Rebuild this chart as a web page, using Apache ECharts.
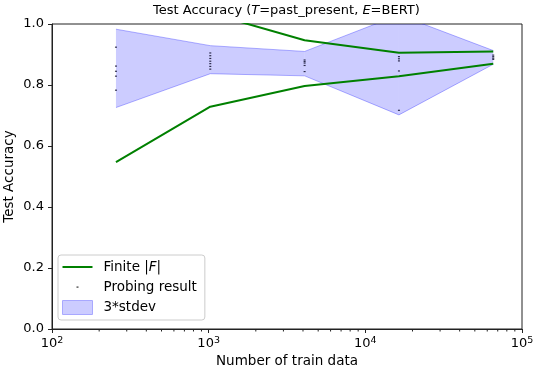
<!DOCTYPE html>
<html>
<head>
<meta charset="utf-8">
<script src="https://cdn.jsdelivr.net/npm/echarts@6/dist/echarts.min.js"></script>
<style>
html, body { margin: 0; padding: 0; background: #fff; }
#main { width: 534px; height: 368px; }
</style>
</head>
<body>
<div id="main"></div>
<script>
// train sizes (x positions of every mark)
var trainSizes = [256, 1024, 4096, 16384, 65536];

// "Finite |F|" lines (two curves, same style)
var finiteLow = [0.547, 0.729, 0.797, 0.829, 0.870];
var finiteHighSizes = [1024, 4096, 16384, 65536];
var finiteHigh = [1.035, 0.947, 0.906, 0.910];

// 3*stdev band
var bandLow = [0.726, 0.837, 0.830, 0.702, 0.868];
var bandHigh = [0.983, 0.929, 0.910, 1.030, 0.913];

// probing results, one list per train size
var probing = [
	[0.924, 0.862, 0.845, 0.829, 0.783],
	[0.905, 0.896, 0.887, 0.878, 0.870, 0.861, 0.852],
	[0.882, 0.877, 0.872, 0.864, 0.844],
	[0.893, 0.886, 0.879, 0.846, 0.717],
	[0.898, 0.893, 0.888, 0.884]
];

// axis ticks
var xMinorTicks = [];
[100, 1000, 10000].forEach(function(d){
	for (var k = 2; k <= 9; k++) xMinorTicks.push(d * k);
});

var FONT = 'DejaVu Sans';

var chart = {
	init: function(){
		var myChart = echarts.init(document.getElementById('main'), null, {renderer: 'canvas'});
		myChart.setOption(chart.getOption());
	},
	pairs: function(xs, ys){
		return xs.map(function(x, i){ return [x, ys[i]]; });
	},
	getOption: function(){
		var probingPts = [];
		probing.forEach(function(list, i){
			list.forEach(function(v){ probingPts.push([trainSizes[i], v]); });
		});
		// one quad per segment of the band: x0, low0, high0, x1, low1, high1
		var bandSegs = [];
		for (var i = 0; i < trainSizes.length - 1; i++) {
			bandSegs.push([trainSizes[i], bandLow[i], bandHigh[i], trainSizes[i + 1], bandLow[i + 1], bandHigh[i + 1]]);
		}
		var edge = 'rgba(0,0,255,0.3)';

		return {
			animation: false,
			textStyle: {fontFamily: FONT},
			title: {
				text: 'Test Accuracy ({i|T}=past_present, {i|E}=BERT)',
				left: 153,
				top: 4,
				padding: 0,
				textStyle: {
					fontFamily: FONT, fontSize: 13, fontWeight: 'normal', color: '#000',
					rich: {i: {fontFamily: FONT, fontSize: 13, fontStyle: 'italic', color: '#000'}}
				}
			},
			grid: {
				left: 52, right: 12, top: 24, bottom: 39,
				outerBoundsMode: 'none',
				containLabel: false,
				show: true, borderColor: '#222', borderWidth: 1, backgroundColor: 'transparent'
			},
			legend: {
				orient: 'vertical',
				left: 58, top: 255,
				padding: [5, 8, 5, 4],
				itemGap: 6,
				itemWidth: 30, itemHeight: 14,
				borderColor: '#cccccc', borderWidth: 1, borderRadius: 3,
				backgroundColor: 'rgba(255,255,255,0.85)',
				textStyle: {
					fontFamily: FONT, fontSize: 13.5, color: '#000', padding: [0, 0, 0, 6],
					rich: {i: {fontFamily: FONT, fontSize: 13.5, fontStyle: 'italic', color: '#000'}}
				},
				formatter: function(name){
					if (name === 'Finite |F|') return 'Finite |{i|F}|';
					return name;
				},
				data: [
					{name: 'Finite |F|', icon: 'path://M0,0M30,0M30,14M0,14M0,6h30v2h-30z', itemStyle: {color: '#008000'}},
					{name: 'Probing result', icon: 'path://M0,0M30,0M30,14M0,14M14,6.5h2v1.2h-2z', itemStyle: {color: '#000'}},
					{name: '3*stdev', icon: 'rect', itemStyle: {color: '#ccccff', borderColor: '#a8a8ff', borderWidth: 1}}
				]
			},
			xAxis: {
				type: 'log',
				logBase: 10,
				min: 100, max: 100000,
				name: 'Number of train data',
				nameLocation: 'middle',
				nameGap: 25,
				nameMoveOverlap: false,
				nameTextStyle: {fontFamily: FONT, fontSize: 13.5, color: '#000', verticalAlign: 'top'},
				axisLine: {show: true, lineStyle: {color: '#222', width: 1}},
				axisTick: {show: true, inside: false, length: 4, lineStyle: {color: '#222', width: 1}},
				splitLine: {show: false},
				axisLabel: {
					margin: 7,
					fontFamily: FONT, fontSize: 13, color: '#000',
					formatter: function(v){
						return '10{sup|' + Math.round(Math.log10(v)) + '}';
					},
					rich: {sup: {fontFamily: FONT, fontSize: 9.5, color: '#000', verticalAlign: 'top', padding: [0, 0, 6, 0]}}
				}
			},
			yAxis: {
				type: 'value',
				min: 0, max: 1, interval: 0.2,
				name: 'Test Accuracy',
				nameLocation: 'middle',
				nameGap: 36,
				nameMoveOverlap: false,
				nameTextStyle: {fontFamily: FONT, fontSize: 13.5, color: '#000'},
				axisLine: {show: true, lineStyle: {color: '#222', width: 1}},
				axisTick: {show: true, inside: false, length: 4, lineStyle: {color: '#222', width: 1}},
				splitLine: {show: false},
				axisLabel: {
					margin: 8,
					fontFamily: FONT, fontSize: 13, color: '#000',
					formatter: function(v){ return v.toFixed(1); }
				}
			},
			series: [
				{
					name: '3*stdev',
					type: 'custom',
					data: bandSegs,
					encode: {x: [0, 3], y: [1, 2, 4, 5]},
					clip: true,
					silent: true,
					z: 1,
					itemStyle: {color: '#ccccff'},
					renderItem: function(params, api){
						var a0 = api.coord([api.value(0), api.value(1)]);
						var b0 = api.coord([api.value(0), api.value(2)]);
						var a1 = api.coord([api.value(3), api.value(4)]);
						var b1 = api.coord([api.value(3), api.value(5)]);
						return {
							type: 'group',
							children: [
								{
									type: 'polygon',
									shape: {points: [a0, a1, b1, b0]},
									style: {fill: 'rgba(0,0,255,0.2)', stroke: null}
								},
								{
									type: 'polyline',
									shape: {points: [a0, a1]},
									style: {stroke: edge, lineWidth: 1, fill: null}
								},
								{
									type: 'polyline',
									shape: {points: [b0, b1]},
									style: {stroke: edge, lineWidth: 1, fill: null}
								}
							]
						};
					}
				},
				{
					name: 'Finite |F|',
					type: 'line',
					data: chart.pairs(trainSizes, finiteLow),
					symbol: 'none',
					lineStyle: {color: '#008000', width: 2},
					itemStyle: {color: '#008000'},
					z: 3
				},
				{
					name: 'Finite |F|',
					type: 'line',
					data: chart.pairs(finiteHighSizes, finiteHigh),
					symbol: 'none',
					lineStyle: {color: '#008000', width: 2},
					itemStyle: {color: '#008000'},
					z: 3
				},
				{
					name: 'Probing result',
					type: 'scatter',
					data: probingPts,
					symbol: 'rect',
					symbolSize: [2, 1.2],
					itemStyle: {color: '#000020'},
					z: 4
				},
				{
					name: 'minor-ticks',
					type: 'custom',
					data: xMinorTicks.map(function(v){ return [v, 0]; }),
					encode: {x: 0, y: 1},
					silent: true,
					z: 5,
					renderItem: function(params, api){
						var p = api.coord([api.value(0), 0]);
						return {
							type: 'line',
							shape: {x1: p[0], y1: p[1], x2: p[0], y2: p[1] + 2.5},
							style: {stroke: '#222', lineWidth: 1}
						};
					}
				}
			]
		};
	}
};

chart.init();
</script>
</body>
</html>
